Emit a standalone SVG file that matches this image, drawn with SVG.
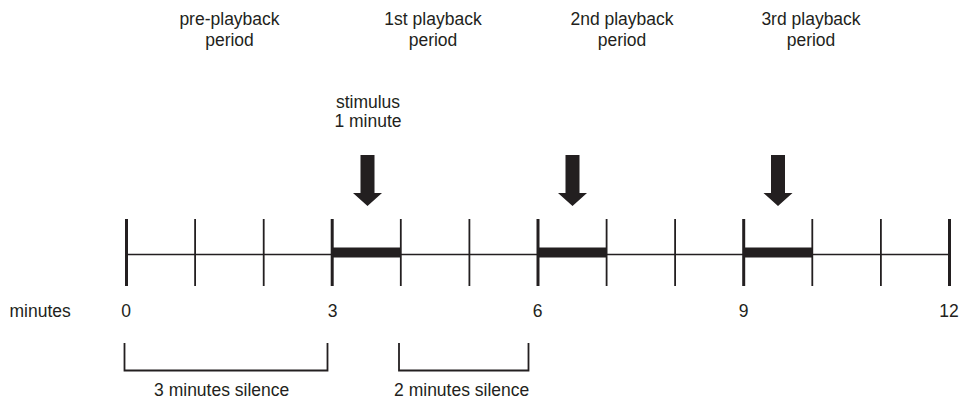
<svg xmlns="http://www.w3.org/2000/svg" width="968" height="400" viewBox="0 0 968 400">
  <style>
    text { font-family: "Liberation Sans", Arial, sans-serif; font-size: 17.5px; fill: #231f20; }
    .c { text-anchor: middle; }
    .axis { stroke: #231f20; stroke-width: 1.6; fill: none; }
    .major { stroke: #231f20; stroke-width: 3; }
    .minor { stroke: #231f20; stroke-width: 1.8; }
    .bar { fill: #231f20; }
    .arrow { fill: #231f20; }
    .bracket { stroke: #231f20; stroke-width: 1.8; fill: none; }
  </style>
  <defs>
    <polygon id="down-arrow" points="-7,155 7,155 7,193 14.5,193 0,206 -14.5,193 -7,193"/>
  </defs>
  <rect width="968" height="400" fill="#ffffff"/>

  <!-- period headings -->
  <g id="heading-pre">
    <text class="c" x="229.5" y="25">pre-playback</text>
    <text class="c" x="229.5" y="46">period</text>
  </g>
  <g id="heading-1st">
    <text class="c" x="433" y="25">1st playback</text>
    <text class="c" x="433" y="46">period</text>
  </g>
  <g id="heading-2nd">
    <text class="c" x="622" y="25">2nd playback</text>
    <text class="c" x="622" y="46">period</text>
  </g>
  <g id="heading-3rd">
    <text class="c" x="811" y="25">3rd playback</text>
    <text class="c" x="811" y="46">period</text>
  </g>

  <g id="stimulus-label">
    <text class="c" x="368" y="108">stimulus</text>
    <text class="c" x="368" y="127">1 minute</text>
  </g>

  <!-- stimulus arrows -->
  <g id="stimulus-arrows" class="arrow">
    <use href="#down-arrow" x="367.5"/>
    <use href="#down-arrow" x="572.5"/>
    <use href="#down-arrow" x="778"/>
  </g>

  <!-- timeline -->
  <g id="timeline">
    <line class="axis" x1="126.5" y1="254.5" x2="949.5" y2="254.5"/>
    <rect class="bar" x="332.2" y="247.5" width="68.6" height="10"/>
    <rect class="bar" x="538" y="247.5" width="68.6" height="10"/>
    <rect class="bar" x="743.7" y="247.5" width="68.6" height="10"/>
    <line class="major" x1="126.5" y1="219" x2="126.5" y2="286"/>
    <line class="minor" x1="195.1" y1="219" x2="195.1" y2="286"/>
    <line class="minor" x1="263.7" y1="219" x2="263.7" y2="286"/>
    <line class="major" x1="332.2" y1="219" x2="332.2" y2="286"/>
    <line class="minor" x1="400.8" y1="219" x2="400.8" y2="286"/>
    <line class="minor" x1="469.4" y1="219" x2="469.4" y2="286"/>
    <line class="major" x1="538" y1="219" x2="538" y2="286"/>
    <line class="minor" x1="606.6" y1="219" x2="606.6" y2="286"/>
    <line class="minor" x1="675.1" y1="219" x2="675.1" y2="286"/>
    <line class="major" x1="743.7" y1="219" x2="743.7" y2="286"/>
    <line class="minor" x1="812.3" y1="219" x2="812.3" y2="286"/>
    <line class="minor" x1="880.9" y1="219" x2="880.9" y2="286"/>
    <line class="major" x1="949.5" y1="219" x2="949.5" y2="286"/>
  </g>

  <!-- minute scale -->
  <g id="scale-labels">
    <text x="9.5" y="317">minutes</text>
    <text class="c" x="126" y="317">0</text>
    <text class="c" x="332.7" y="317">3</text>
    <text class="c" x="537.5" y="317">6</text>
    <text class="c" x="743.5" y="317">9</text>
    <text class="c" x="949" y="317">12</text>
  </g>

  <!-- silence brackets -->
  <g id="silence-3min">
    <path class="bracket" d="M124.5 343 V370.5 H327.5 V343"/>
    <text class="c" x="221.7" y="396">3 minutes silence</text>
  </g>
  <g id="silence-2min">
    <path class="bracket" d="M399 343 V370.5 H528.5 V343"/>
    <text class="c" x="461.7" y="396">2 minutes silence</text>
  </g>
</svg>
